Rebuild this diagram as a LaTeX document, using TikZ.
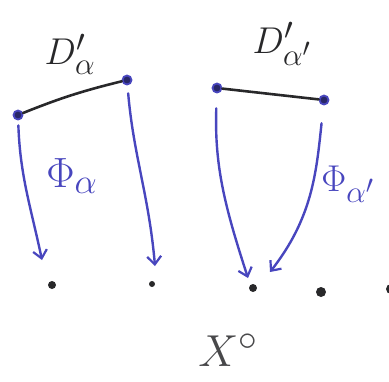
\documentclass[tikz,border=0pt]{standalone}
\usepackage{graphicx}
\usepackage{tikz}
\usetikzlibrary{positioning, arrows.meta}

\definecolor{penblue}{RGB}{72,70,190}
\definecolor{penink}{RGB}{40,40,42}

\newcommand{\bigmath}[2]{\scalebox{#1}{\Huge$#2$}}

\begin{document}
\begin{tikzpicture}[
        x=1pt, y=-1pt,
        endpt/.style={circle, draw=penblue, fill=penblue!55!black, line width=1.8pt, inner sep=0pt, minimum size=9pt},
        ptdot/.style={circle, fill=penink, inner sep=0pt, minimum size=8pt},
        inkline/.style={penink, line width=2.6pt, line cap=round},
        maparr/.style={-{Straight Barb[length=8pt, width=14pt, line width=2.2pt]}, penblue, line width=2.4pt, line cap=round},
        lbl/.style={penink, inner sep=0pt},
        maplbl/.style={penblue, inner sep=0pt},
    ]
        \useasboundingbox (0,0) rectangle (389,381);
        \clip (0,0) rectangle (389,381);

        % Endpoints of the two segments
        \node[endpt] (la) at (18,115) {};
        \node[endpt] (lb) at (127,80) {};
        \node[endpt] (ra) at (217,88) {};
        \node[endpt] (rb) at (324,100) {};

        % Segments
        \draw[inkline] (la) to[bend left=4] (lb);
        \draw[inkline] (ra) -- (rb);

        % Segment labels
        \node[lbl] (dl) at (70,54) {\bigmath{1.5}{D'_{\alpha}}};
        \node[lbl] (dr) at (282,44) {\bigmath{1.5}{D'_{\alpha'}}};

        % Points of X
        \node[ptdot] (p1) at (52,285) {};
        \node[ptdot, minimum size=6pt] (p2) at (152,284) {};
        \node[ptdot] (p3) at (253,288) {};
        \node[ptdot, minimum size=10pt] (p4) at (321,292) {};
        \node[ptdot, minimum size=10pt] (p5) at (391,289) {};

        % Arrow tips
        \coordinate (t1) at (42,260);
        \coordinate (t2) at (155,266);
        \coordinate (t3) at (248,278);
        \coordinate (t4) at (270,272);

        % Maps
        \draw[maparr, shorten <=5pt] (la) to[out=-88, in=102] (t1);
        \draw[maparr, shorten <=8pt] (lb) to[out=-85, in=95] (t2);
        \draw[maparr, shorten <=15pt] (ra) to[out=-92, in=108] (t3);
        \draw[maparr, shorten <=18pt] (rb) to[out=-96, in=52] (t4);

        % Map labels
        \node[maplbl] (phl) at (72,176) {\bigmath{1.7}{\Phi_{\alpha}}};
        \node[maplbl] (phr) at (348,184) {\bigmath{1.5}{\Phi_{\alpha'}}};

        % Space label
        \node[lbl, text=penink!85] (xs) at (228,350) {\bigmath{1.8}{X^{\circ}}};
\end{tikzpicture}
\end{document}
